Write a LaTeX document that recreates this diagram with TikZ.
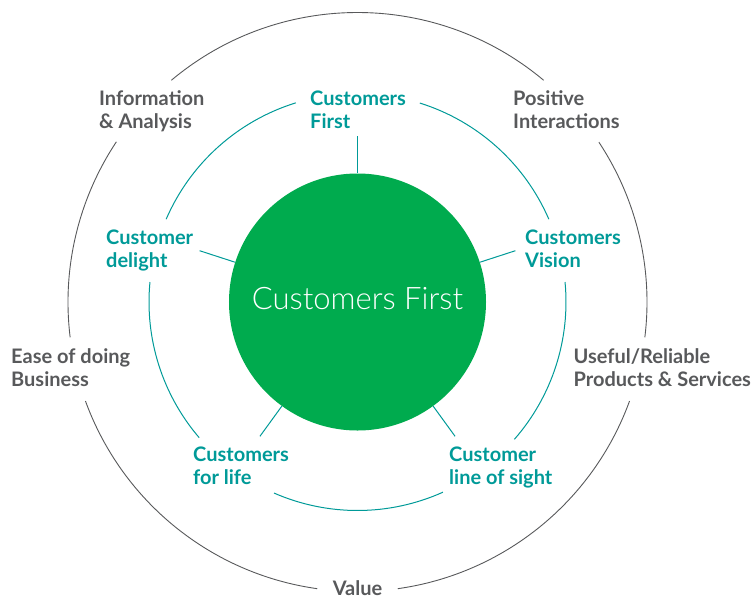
\documentclass[tikz,border=0pt]{standalone}
\usepackage{fontspec}
\setmainfont{Lato}
\newfontfamily\lightfont{Lato Light}
\definecolor{cfgray}{HTML}{58595B}
\definecolor{cfteal}{HTML}{009A98}
\definecolor{cfgreen}{HTML}{00AB4E}

\begin{document}
\begin{tikzpicture}[x=1pt,y=1pt,
	outerlbl/.style={text=cfgray, font=\bfseries\fontsize{20}{23}\selectfont,
		align=left, anchor=north west, inner sep=0pt},
	innerlbl/.style={outerlbl, text=cfteal},
	ring/.style={draw=cfgray, line width=0.9pt},
	tealring/.style={draw=cfteal, line width=1pt}]

	\useasboundingbox (-357.5,-296) rectangle (396.5,302);

	% outer ring, open where the labels sit
	\foreach \a/\b in {50/130,146.4/187,200/262,278/340,353/393.5}
	\draw[ring] (\a:289.5) arc[start angle=\a, end angle=\b, radius=289.5];

	% middle ring
	\foreach \a/\b in {107.2/156.6,174.5/220.6,246.4/294.2,318.8/365.5,23.4/72.6}
	\draw[tealring] (\a:208.5) arc[start angle=\a, end angle=\b, radius=208.5];

	% green hub
	\node[circle, fill=cfgreen, minimum size=257pt, inner sep=0pt] (hub) at (0,0) {};
	\node[anchor=base, text=white, font=\lightfont\fontsize{31}{34}\selectfont]
	(hubtext) at (0,-7) {Customers First};

	% spokes
	\foreach \t in {18,90,162,234,306}
	\coordinate (tip\t) at (\t:166);
	\foreach \t in {18,90,162,234,306}
	\draw[tealring] (hub.\t) -- (tip\t);

	% outer labels
	\node[outerlbl] (info) at (-258.5,211.5) {Information\\\& Analysis};
	\node[outerlbl] (positive) at (155.5,211.5) {Positive\\Interactions};
	\node[outerlbl] (ease) at (-346.5,-46.5) {Ease of doing\\Business};
	\node[outerlbl] (useful) at (216,-46.5) {Useful/Reliable\\Products \& Services};
	\node[outerlbl, anchor=base] (value) at (0,-293) {Value};

	% inner labels
	\node[innerlbl] (first) at (-47.5,211.5) {Customers\\First};
	\node[innerlbl] (delight) at (-251.5,72.5) {Customer\\delight};
	\node[innerlbl] (vision) at (167.5,72.5) {Customers\\Vision};
	\node[innerlbl] (life) at (-164.5,-144.5) {Customers\\for life};
	\node[innerlbl] (sight) at (91.5,-144.5) {Customer\\line of sight};

\end{tikzpicture}
\end{document}
